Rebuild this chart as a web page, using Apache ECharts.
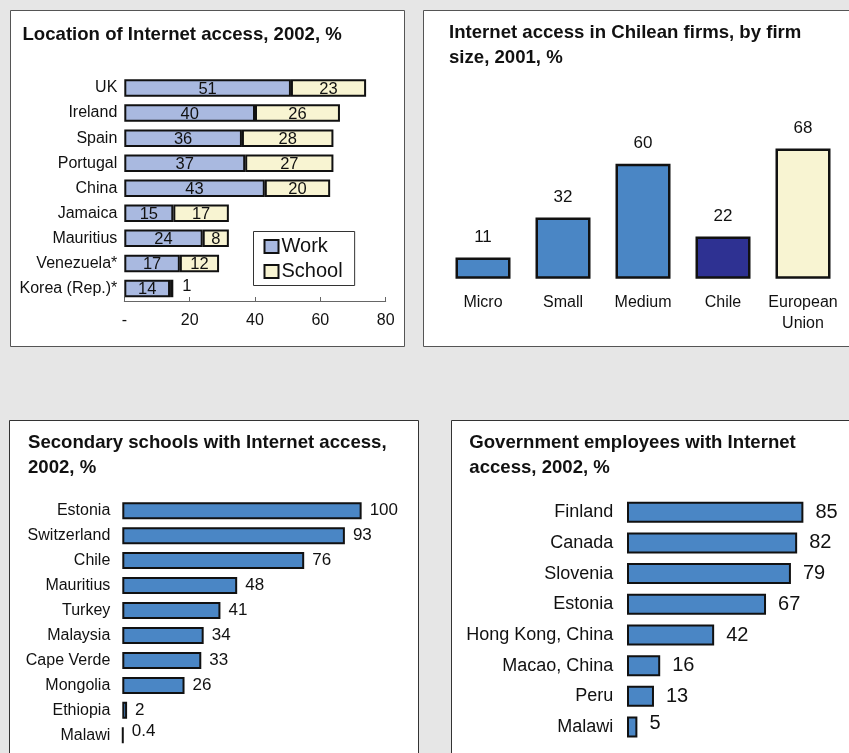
<!DOCTYPE html>
<html>
<head>
<meta charset="utf-8">
<script src="https://cdn.jsdelivr.net/npm/echarts@6/dist/echarts.min.js"></script>
<style>
html,body{margin:0;padding:0;background:#e6e6e6;}
#c{width:849px;height:753px;}
</style>
</head>
<body>
<div id="c"></div>
<script>
// ---- Data ----
const tlCategories = ['UK','Ireland','Spain','Portugal','China','Jamaica','Mauritius','Venezuela*','Korea (Rep.)*'];
const tlWork = [51,40,36,37,43,15,24,17,14];
const tlSchool = [23,26,28,27,20,17,8,12,1];
const tlTickMax = 80;
const tlTickStep = 20;

const trCategories = ['Micro','Small','Medium','Chile','European\nUnion'];
const trValues = [11,32,60,22,68];

const blCategories = ['Estonia','Switzerland','Chile','Mauritius','Turkey','Malaysia','Cape Verde','Mongolia','Ethiopia','Malawi'];
const blValues = [100,93,76,48,41,34,33,26,2,0.4];

const brCategories = ['Finland','Canada','Slovenia','Estonia','Hong Kong, China','Macao, China','Peru','Malawi'];
const brValues = [85,82,79,67,42,16,13,5];

// ---- Styles ----
const FONT = "'Liberation Sans', Arial, sans-serif";
const BLUE = '#4a86c5';
const NAVY = '#2e3192';
const CREAM = '#f8f4d2';
const WORK = '#a9b9e0';
const trColors = [BLUE, BLUE, BLUE, NAVY, CREAM];

const chart = echarts.init(document.getElementById('c'), null, {renderer:'canvas'});

const titleStyle = {fontFamily: FONT, fontSize: 18.6, fontWeight: 'bold', color: '#111', lineHeight: 25};

const option = {
  backgroundColor: '#e6e6e6',
  animation: false,
  textStyle: {fontFamily: FONT},
  graphic: [
    {type:'rect', z:-10, shape:{x:10.5,y:10.5,width:394,height:336}, style:{fill:'#fff', stroke:'#555', lineWidth:1}},
    {type:'rect', z:-10, shape:{x:423.5,y:10.5,width:440,height:336}, style:{fill:'#fff', stroke:'#555', lineWidth:1}},
    {type:'rect', z:-10, shape:{x:9.5,y:420.5,width:409,height:400}, style:{fill:'#fff', stroke:'#333', lineWidth:1}},
    {type:'rect', z:-10, shape:{x:451.5,y:420.5,width:420,height:400}, style:{fill:'#fff', stroke:'#333', lineWidth:1}}
  ],
  title: [
    {text:'Location of Internet access, 2002, %', left:22.5, top:22.5, padding:0, textStyle:titleStyle},
    {text:'Internet access in Chilean firms, by firm\nsize, 2001, %', left:449, top:20.5, padding:0, textStyle:titleStyle},
    {text:'Secondary schools with Internet access,\n2002, %', left:28, top:430.2, padding:0, textStyle:titleStyle},
    {text:'Government employees with Internet\naccess, 2002, %', left:469.3, top:430.2, padding:0, textStyle:titleStyle}
  ],
  legend: {
    left: 253.5, top: 231.5, orient: 'vertical',
    padding: [5, 12, 4, 10],
    borderColor: '#333', borderWidth: 1,
    backgroundColor: '#fff',
    itemWidth: 14, itemHeight: 13, itemGap: 5,
    icon: 'rect',
    textStyle: {fontFamily: FONT, fontSize: 20, color: '#111', padding:[0,0,0,-2]},
    data: ['Work','School']
  },
  grid: [
    {left:124.3, top:75.5, width:261.4, height:225.5, containLabel:false},
    {left:443, top:125.4, width:400, height:153.3, containLabel:false},
    {left:122.3, top:498.2, width:287.2, height:249.6, containLabel:false},
    {left:627, top:496.9, width:207.5, height:245.5, containLabel:false}
  ],
  xAxis: [
    {gridIndex:0, type:'value', min:0, max:tlTickMax, interval:tlTickStep,
      axisLine:{show:true, lineStyle:{color:'#666', width:1}},
      axisTick:{show:true, length:4, inside:true, lineStyle:{color:'#666'}},
      splitLine:{show:false},
      axisLabel:{margin:12, fontSize:16, color:'#111', fontFamily:FONT, formatter:(v)=> v===0 ? '-' : String(v)}},
    {gridIndex:1, type:'category', data:trCategories,
      axisLine:{show:false}, axisTick:{show:false},
      axisLabel:{margin:13.5, fontSize:16, color:'#111', lineHeight:21, fontFamily:FONT, interval:0}},
    {gridIndex:2, type:'value', min:0, max:120, show:false},
    {gridIndex:3, type:'value', min:0, max:100, show:false}
  ],
  yAxis: [
    {gridIndex:0, type:'category', data:tlCategories, inverse:true,
      axisLine:{show:false}, axisTick:{show:false},
      axisLabel:{margin:7, fontSize:16, color:'#111', fontFamily:FONT, interval:0}},
    {gridIndex:1, type:'value', min:0, max:80, show:false},
    {gridIndex:2, type:'category', data:blCategories, inverse:true,
      axisLine:{show:false}, axisTick:{show:false},
      axisLabel:{margin:12, fontSize:16, color:'#111', fontFamily:FONT, interval:0}},
    {gridIndex:3, type:'category', data:brCategories, inverse:true,
      axisLine:{show:false}, axisTick:{show:false},
      axisLabel:{margin:13.7, fontSize:18, color:'#111', fontFamily:FONT, interval:0}}
  ],
  series: [
    {name:'Work', type:'bar', xAxisIndex:0, yAxisIndex:0, stack:'tl', barWidth:17.5,
      data: tlWork,
      itemStyle:{color:WORK, borderColor:'#111', borderWidth:2},
      label:{show:true, position:'inside', fontSize:16.5, color:'#111', fontFamily:FONT, offset:[0,1]}},
    {name:'School', type:'bar', xAxisIndex:0, yAxisIndex:0, stack:'tl', barWidth:17.5,
      data: tlSchool.map((v, i) => i === tlSchool.length - 1
        ? {value:v, label:{position:'right', distance:9, offset:[0,-2]}}
        : v),
      itemStyle:{color:CREAM, borderColor:'#111', borderWidth:2},
      label:{show:true, position:'inside', fontSize:16.5, color:'#111', fontFamily:FONT, offset:[0,1]}},
    {name:'firms', type:'bar', xAxisIndex:1, yAxisIndex:1, barWidth:55,
      data: trValues.map((v, i) => ({value:v, itemStyle:{color:trColors[i]}})),
      itemStyle:{borderColor:'#111', borderWidth:2.5},
      label:{show:true, position:'top', distance:12, fontSize:17, color:'#111', fontFamily:FONT}},
    {name:'schools', type:'bar', xAxisIndex:2, yAxisIndex:2, barWidth:17,
      data: blValues.map((v, i) => i === blValues.length - 1 ? {value:v, label:{offset:[0,-4]}} : v),
      itemStyle:{color:BLUE, borderColor:'#111', borderWidth:2},
      label:{show:true, position:'right', distance:8, fontSize:17, color:'#111', fontFamily:FONT}},
    {name:'gov', type:'bar', xAxisIndex:3, yAxisIndex:3, barWidth:21,
      data: brValues.map((v, i) => i === brValues.length - 1 ? {value:v, label:{offset:[0,-4]}} : v),
      itemStyle:{color:BLUE, borderColor:'#111', borderWidth:2},
      label:{show:true, position:'right', distance:12, fontSize:20, color:'#111', fontFamily:FONT}}
  ]
};
chart.setOption(option);
</script>
</body>
</html>
